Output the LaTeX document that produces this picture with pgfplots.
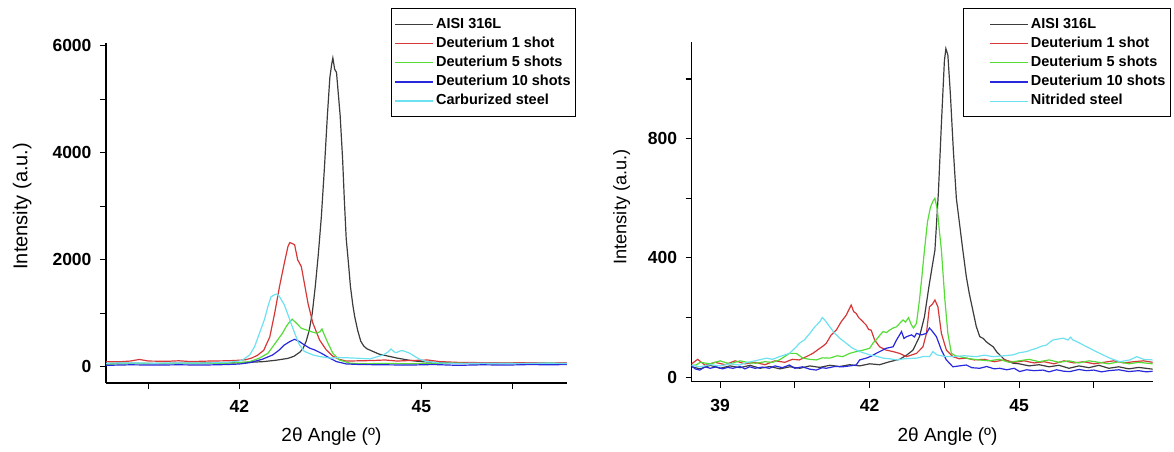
\documentclass[border=0pt]{standalone}
\usepackage{fontspec}
\setmainfont{Liberation Sans}
\usepackage{pgfplots}
\pgfplotsset{compat=1.18}

\definecolor{cAISI}{RGB}{60,60,60}
\definecolor{cDa}{RGB}{215,55,55}
\definecolor{cDb}{RGB}{85,220,55}
\definecolor{cDc}{RGB}{40,40,220}
\definecolor{cSteel}{RGB}{110,225,240}

\pgfplotsset{xrd/.style={
    scale only axis, width=461pt, height=340pt,
    axis lines*=left, axis line style={line width=1.3pt},
    tick align=outside, major tick length=6pt, minor tick length=6pt,
    every tick/.style={black, line width=1.1pt},
    tick label style={font=\fontsize{17.5}{20}\selectfont\bfseries},
    xticklabel style={yshift=-8pt},
    yticklabel style={xshift=-5pt},
    /pgf/number format/assume math mode=true,
    /pgf/number format/set thousands separator={},
    scaled ticks=false,
    label style={font=\fontsize{19}{22}\selectfont},
    legend cell align=left,
    legend style={line width=0.8pt, fill=white, anchor=north west,
      font=\fontsize{14.5}{17}\selectfont\bfseries, row sep=0pt,
      inner xsep=3pt, inner ysep=6pt,
      nodes={inner xsep=2pt, inner ysep=2.85pt, text height=10.5pt, text depth=3pt}},
    legend image code/.code={\draw[#1, line width=1.3pt] (0pt,0pt) -- (38pt,0pt);},
    every axis plot/.append style={line width=1.2pt, mark=none},
}}

\begin{document}
\begin{tikzpicture}
\useasboundingbox (0,0) rectangle (1174pt,451pt);

% left: carburized
\begin{axis}[xrd, at={(106pt,68pt)}, anchor=south west,
    xmin=39.8, xmax=47.4, ymin=-300, ymax=6050,
    xtick={42,45}, minor xtick={40.5,43.5,46.5},
    ytick={0,2000,4000,6000}, minor ytick={1000,3000,5000},
    xlabel={2θ Angle (º)}, ylabel={Intensity (a.u.)},
    xlabel style={at={(axis description cs:0.489,-0.159)}, anchor=center},
    ylabel style={at={(axis description cs:-0.182,0.52)}, anchor=center, font=\fontsize{20}{22}\selectfont},
    legend style={at={(axis description cs:0.619,1.102)}},
  ]
\addplot[cAISI] coordinates {(39.8,65) (40.2,70) (40.6,62) (41.0,70) (41.4,72) (41.8,78) (42.0,80) (42.2,88) (42.4,100) (42.6,125) (42.8,160) (42.9,200) (43.0,280) (43.05,350) (43.1,480) (43.15,680) (43.2,1000) (43.25,1500) (43.3,2100) (43.35,2800) (43.4,3700) (43.45,4700) (43.49,5400) (43.52,5650) (43.54,5770) (43.57,5560) (43.6,5500) (43.63,5100) (43.66,4700) (43.7,3900) (43.73,3100) (43.76,2400) (43.8,1900) (43.83,1500) (43.87,1150) (43.9,940) (43.95,680) (44.0,480) (44.05,390) (44.1,340) (44.2,290) (44.3,240) (44.4,215) (44.5,190) (44.6,165) (44.7,145) (44.8,125) (44.9,110) (45.0,100) (45.2,85) (45.5,75) (45.8,70) (46.2,68) (46.6,72) (47.0,70) (47.4,68)};
\addplot[cDa] coordinates {(39.8,100) (40.0,95) (40.2,110) (40.35,140) (40.5,110) (40.8,105) (41.0,115) (41.2,100) (41.5,110) (41.8,115) (42.0,125) (42.1,135) (42.2,165) (42.3,220) (42.4,310) (42.5,560) (42.58,1000) (42.66,1500) (42.74,1940) (42.8,2250) (42.83,2323) (42.88,2300) (42.91,2280) (42.96,2000) (43.02,1875) (43.07,1565) (43.13,1190) (43.21,820) (43.32,505) (43.43,320) (43.54,200) (43.65,140) (43.76,110) (44.0,115) (44.2,120) (44.4,130) (44.6,110) (44.8,120) (45.0,125) (45.1,130) (45.3,100) (45.6,85) (46.0,80) (46.4,75) (46.8,80) (47.1,70) (47.4,75)};
\addplot[cDb] coordinates {(39.8,55) (40.2,60) (40.6,65) (41.0,60) (41.4,65) (41.8,70) (42.0,80) (42.17,100) (42.33,165) (42.47,256) (42.55,380) (42.63,505) (42.71,630) (42.77,753) (42.83,847) (42.87,891) (42.94,817) (43.02,723) (43.10,692) (43.18,660) (43.27,630) (43.33,660) (43.36,710) (43.4,598) (43.46,443) (43.54,256) (43.65,130) (43.82,70) (44.0,60) (44.4,65) (44.8,60) (45.2,65) (45.6,70) (46.0,55) (46.4,65) (46.8,60) (47.1,70) (47.4,60)};
\addplot[cDc] coordinates {(39.8,30) (40.2,40) (40.6,35) (41.0,40) (41.4,35) (41.8,45) (42.0,55) (42.17,80) (42.38,145) (42.55,225) (42.66,320) (42.74,410) (42.83,473) (42.91,517) (42.99,473) (43.07,411) (43.16,350) (43.24,318) (43.35,256) (43.49,163) (43.6,100) (43.76,56) (44.0,45) (44.4,40) (44.8,35) (45.2,45) (45.6,30) (46.0,40) (46.4,35) (46.8,45) (47.1,40) (47.4,45)};
\addplot[cSteel] coordinates {(39.8,70) (40.2,75) (40.6,70) (41.0,75) (41.4,72) (41.8,85) (42.0,110) (42.05,130) (42.17,225) (42.25,380) (42.33,630) (42.41,880) (42.47,1130) (42.52,1310) (42.58,1350) (42.62,1364) (42.66,1314) (42.74,1160) (42.83,880) (42.91,630) (42.99,410) (43.07,290) (43.21,225) (43.32,195) (43.49,165) (43.65,175) (43.8,170) (44.0,160) (44.15,150) (44.3,200) (44.37,225) (44.45,280) (44.5,336) (44.55,280) (44.59,268) (44.65,300) (44.69,305) (44.75,280) (44.81,255) (44.9,190) (44.97,145) (45.08,100) (45.3,75) (45.6,65) (46.0,70) (46.5,65) (47.0,70) (47.4,65)};
\legend{AISI 316L, Deuterium 1 shot, Deuterium 5 shots, Deuterium 10 shots, Carburized steel}
\end{axis}

% right: nitrided
\begin{axis}[xrd, at={(691.7pt,69.3pt)}, anchor=south west,
    xmin=38.43, xmax=47.68, ymin=-15, ymax=1125,
    xtick={39,42,45}, minor xtick={40.5,43.5,46.5},
    ytick={0,400,800}, minor ytick={200,600,1000},
    xlabel={2θ Angle (º)}, ylabel={Intensity (a.u.)},
    xlabel style={at={(axis description cs:0.555,-0.162)}, anchor=center},
    ylabel style={at={(axis description cs:-0.152,0.514)}, anchor=center, font=\fontsize{18.2}{21}\selectfont},
    legend style={at={(axis description cs:0.589,1.098)}},
    legend image code/.code={\path (0pt,0pt); \draw[#1, line width=1.3pt] (23pt,0pt) -- (61pt,0pt);},
  ]
\addplot[cAISI] coordinates {(38.43,35) (38.6,28) (38.8,40) (39.0,30) (39.2,38) (39.4,32) (39.6,40) (39.8,30) (40.0,36) (40.2,28) (40.4,35) (40.6,30) (40.8,38) (41.0,33) (41.2,40) (41.4,36) (41.6,42) (41.8,38) (42.0,45) (42.2,42) (42.4,52) (42.6,60) (42.75,75) (42.87,91) (43.0,136) (43.1,203) (43.2,315) (43.31,426) (43.38,620) (43.44,850) (43.5,1060) (43.53,1102) (43.57,1080) (43.62,950) (43.68,760) (43.74,600) (43.8,520) (43.87,426) (43.94,337) (44.0,280) (44.07,225) (44.14,170) (44.21,136) (44.28,130) (44.34,119) (44.41,110) (44.48,102) (44.55,85) (44.61,75) (44.7,60) (44.8,52) (44.88,47) (45.0,45) (45.2,38) (45.4,42) (45.6,35) (45.8,40) (46.0,30) (46.2,38) (46.4,32) (46.6,40) (46.8,30) (47.0,35) (47.2,28) (47.4,33) (47.68,27)};
\addplot[cDa] coordinates {(38.43,45) (38.55,60) (38.7,40) (38.9,50) (39.1,42) (39.3,55) (39.5,45) (39.7,50) (39.9,42) (40.1,55) (40.3,50) (40.45,60) (40.59,58) (40.73,69) (40.86,80) (41.0,97) (41.07,105) (41.13,114) (41.23,142) (41.33,158) (41.43,186) (41.53,208) (41.58,225) (41.63,242) (41.68,220) (41.73,214) (41.78,200) (41.83,192) (41.93,175) (41.98,160) (42.03,158) (42.1,125) (42.2,102) (42.33,91) (42.47,86) (42.6,80) (42.74,69) (42.85,75) (42.94,80) (43.0,90) (43.07,102) (43.14,147) (43.2,236) (43.26,245) (43.31,259) (43.37,236) (43.44,147) (43.54,91) (43.67,69) (43.8,62) (43.94,64) (44.1,58) (44.3,60) (44.5,52) (44.7,58) (44.9,50) (45.1,55) (45.3,48) (45.5,52) (45.7,45) (45.9,55) (46.1,48) (46.3,52) (46.5,45) (46.7,50) (46.9,55) (47.1,48) (47.3,52) (47.5,55) (47.68,50)};
\addplot[cDb] coordinates {(38.43,40) (38.52,41) (38.6,50) (38.8,45) (39.0,55) (39.05,52) (39.2,45) (39.4,55) (39.6,48) (39.72,47) (39.9,52) (40.05,50) (40.19,58) (40.3,70) (40.39,80) (40.53,80) (40.66,64) (40.8,60) (40.93,58) (41.05,65) (41.2,64) (41.35,72) (41.46,69) (41.6,80) (41.73,86) (41.85,90) (42.0,97) (42.07,115) (42.13,125) (42.2,140) (42.27,153) (42.34,150) (42.4,158) (42.47,165) (42.54,169) (42.6,180) (42.67,192) (42.72,185) (42.78,200) (42.84,175) (42.88,165) (42.94,181) (43.0,259) (43.05,340) (43.1,426) (43.16,520) (43.22,570) (43.27,590) (43.31,600) (43.36,560) (43.4,490) (43.44,426) (43.51,259) (43.57,147) (43.64,80) (43.72,72) (43.81,69) (44.0,62) (44.2,58) (44.4,55) (44.6,60) (44.8,50) (45.0,55) (45.2,60) (45.4,52) (45.6,58) (45.8,50) (46.0,55) (46.2,48) (46.4,55) (46.6,50) (46.8,45) (47.0,52) (47.2,45) (47.4,50) (47.68,45)};
\addplot[cDc] coordinates {(38.43,38) (38.5,28) (38.59,24) (38.7,35) (38.8,30) (38.92,35) (39.05,28) (39.15,33) (39.26,30) (39.4,36) (39.5,28) (39.59,35) (39.7,30) (39.85,34) (39.99,30) (40.1,38) (40.25,32) (40.39,41) (40.5,30) (40.65,35) (40.8,27) (40.93,24) (41.05,32) (41.13,30) (41.3,36) (41.46,35) (41.6,38) (41.73,41) (41.8,58) (41.95,65) (42.05,72) (42.13,80) (42.25,90) (42.33,97) (42.47,102) (42.54,125) (42.64,153) (42.69,130) (42.74,136) (42.84,142) (42.9,135) (42.94,147) (43.04,142) (43.14,147) (43.2,165) (43.24,158) (43.34,136) (43.44,91) (43.54,58) (43.67,35) (43.8,38) (43.94,41) (44.05,32) (44.21,30) (44.35,36) (44.5,28) (44.61,30) (44.75,25) (44.9,30) (45.01,19) (45.15,25) (45.3,22) (45.48,24) (45.6,18) (45.75,25) (45.9,20) (46.02,19) (46.2,26) (46.35,22) (46.5,24) (46.65,18) (46.8,22) (47.0,25) (47.2,19) (47.4,22) (47.55,18) (47.68,20)};
\addplot[cSteel] coordinates {(38.43,40) (38.6,35) (38.8,42) (39.0,38) (39.2,45) (39.39,41) (39.55,50) (39.7,55) (39.93,64) (40.05,60) (40.19,69) (40.3,75) (40.39,80) (40.53,102) (40.59,114) (40.69,125) (40.8,147) (40.9,169) (41.0,186) (41.05,200) (41.1,192) (41.2,169) (41.3,147) (41.4,131) (41.53,114) (41.66,97) (41.8,86) (42.0,75) (42.15,70) (42.27,64) (42.4,62) (42.54,58) (42.7,62) (42.94,64) (43.1,70) (43.2,69) (43.27,86) (43.35,75) (43.5,70) (43.67,69) (43.9,72) (44.14,69) (44.3,74) (44.48,69) (44.7,72) (44.88,75) (45.0,82) (45.15,86) (45.25,92) (45.35,97) (45.45,104) (45.55,108) (45.62,118) (45.68,125) (45.78,128) (45.88,131) (45.98,125) (46.03,134) (46.08,125) (46.15,120) (46.22,114) (46.32,105) (46.42,97) (46.52,88) (46.62,80) (46.72,72) (46.82,64) (46.92,58) (47.02,52) (47.12,55) (47.22,58) (47.36,69) (47.5,60) (47.68,58)};
\legend{AISI 316L, Deuterium 1 shot, Deuterium 5 shots, Deuterium 10 shots, Nitrided steel}
\end{axis}
\end{tikzpicture}
\end{document}
